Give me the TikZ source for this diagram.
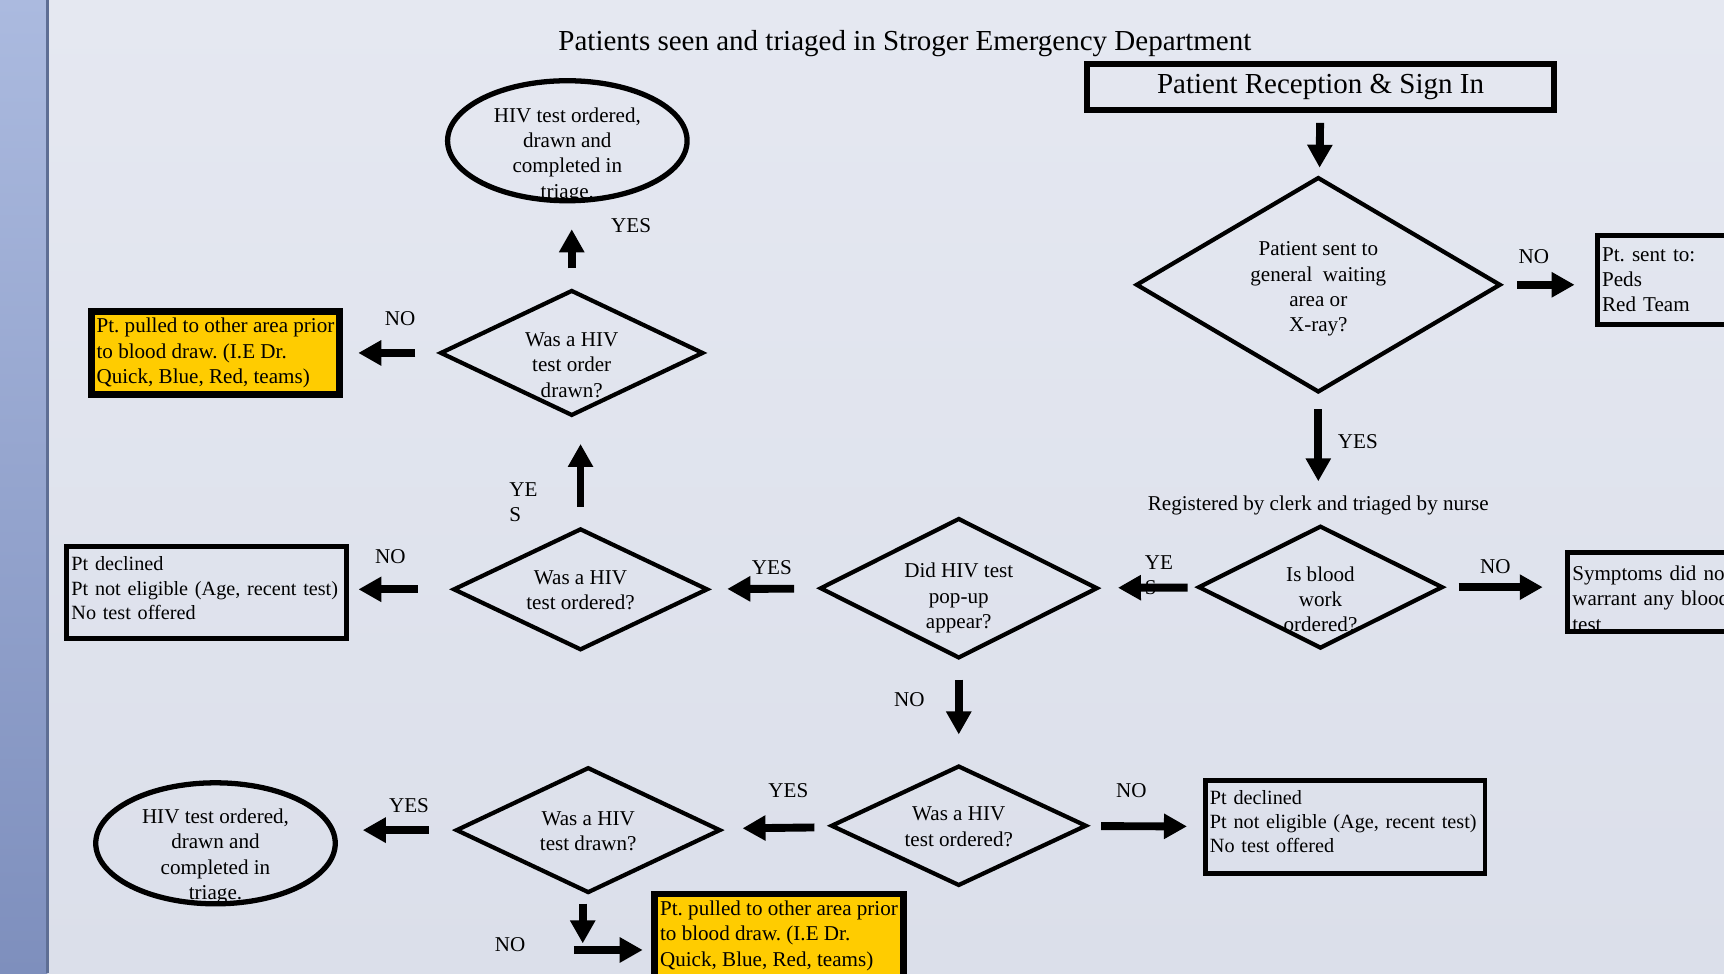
\documentclass[tikz,border=0pt]{standalone}
\usepackage{fontspec}
\setmainfont{Liberation Serif}
\usepackage{tikz}
\usetikzlibrary{positioning,arrows.meta,shapes.geometric,calc}
\definecolor{slidetop}{HTML}{E5E8F1}
\definecolor{slidebot}{HTML}{DBDFEA}
\definecolor{bartop}{HTML}{ABBADF}
\definecolor{barbot}{HTML}{7E8FBD}
\definecolor{baredge}{HTML}{5E6E94}
\definecolor{amber}{HTML}{FFCC00}
\frenchspacing

\begin{document}
\begin{tikzpicture}[x=0.02199cm,y=-0.02199cm,font=\fontsize{12}{14.4}\selectfont,
    decision/.style={diamond,draw,line width=2.4pt,inner sep=0pt,outer sep=0pt},
    finish/.style={ellipse,draw,line width=3pt,inner sep=0pt,outer sep=0pt,minimum width=4.79cm,minimum height=2.4cm},
    outbox/.style={rectangle,draw,line width=2.8pt,outer sep=0pt,inner ysep=0pt,inner xsep=0.09cm,align=left},
    pulled/.style={outbox,fill=amber,line width=3.8pt,inner xsep=0.03cm,minimum width=4.97cm,minimum height=1.67cm},
    declined/.style={outbox,font=\fontsize{11.5}{13.8}\selectfont,text width=5.41cm,minimum height=1.85cm},
    flow/.style={line width=4.5pt,-{Triangle[length=0.46cm,width=0.48cm]}},
    ans/.style={inner sep=0pt}]
  \useasboundingbox (0,0) rectangle (1568,885);
  \clip (0,0) rectangle (1568,885);
  % slide background
  \shade[top color=slidetop,bottom color=slidebot] (0,0) rectangle (1568,885);
  \shade[top color=bartop,bottom color=barbot] (0,0) rectangle (43,885);
  \fill[baredge] (42,0) rectangle (44.5,885);

  \node (title) at (823,40) {\fontsize{16.5}{19}\selectfont Patients seen and triaged in Stroger Emergency Department};
  \node[outbox,line width=3.4pt,minimum width=9.33cm,minimum height=0.92cm,align=center,font=\fontsize{16.5}{19}\selectfont] (reception) at (1201,79) {Patient Reception \& Sign In};

  % decisions
  \node[decision,minimum width=7.26cm,minimum height=4.27cm] (sent) at (1199,259) {};
  \node[align=center] (sentq) at (1199,263) {Patient sent to\\general~ waiting\\area or\\X-ray?};
  \node[decision,minimum width=4.86cm,minimum height=2.42cm] (blood) at (1201,534) {};
  \node[align=center] (bloodq) at (1201,545) {Is blood\\work\\ordered?};
  \node[decision,minimum width=5.52cm,minimum height=2.77cm] (popup) at (872,535) {};
  \node[align=center] (popupq) at (872,544) {Did HIV test\\pop-up\\appear?};
  \node[decision,minimum width=5.06cm,minimum height=2.40cm] (ordered) at (528,536) {};
  \node[align=center] (orderedq) at (528,537) {Was a HIV\\test ordered?};
  \node[decision,minimum width=5.23cm,minimum height=2.48cm] (orderdrawn) at (520,321) {};
  \node[align=center] (orderdrawnq) at (520,332) {Was a HIV\\test order\\drawn?};
  \node[decision,minimum width=5.08cm,minimum height=2.37cm] (ordered2) at (872,751) {};
  \node[align=center] (ordered2q) at (872,752) {Was a HIV\\test ordered?};
  \node[decision,minimum width=5.26cm,minimum height=2.48cm] (drawn2) at (535,755) {};
  \node[align=center] (drawn2q) at (535,756) {Was a HIV\\test drawn?};

  % outcomes
  \node[finish] (done1) at (516,128) {};
  \node[align=center] (done1t) at (516,141) {HIV test ordered,\\drawn and\\completed in\\triage.};
  \node[finish,minimum height=2.42cm] (done2) at (196,767) {};
  \node[align=center] (done2t) at (196,779) {HIV test ordered,\\drawn and\\completed in\\triage.};
  \node[outbox,text width=3.05cm,minimum height=1.78cm] (peds) at (1526.5,254.5) {Pt. sent to:\\Peds\\Red Team};
  \node[outbox,text width=3.87cm,minimum height=1.52cm] (symptoms) at (1518,538.5) {\rule{0pt}{0.55cm}Symptoms did not\\warrant any blood\\test};
  \node[declined] (declined1) at (188,539) {Pt declined\\Pt not eligible (Age, recent test)\\No test offered\rule[-0.18cm]{0pt}{0pt}};
  \node[declined] (declined2) at (1223.5,752) {Pt declined\\Pt not eligible (Age, recent test)\\No test offered\rule[-0.22cm]{0pt}{0pt}};
  \node[pulled] (pulled1) at (196,321) {Pt. pulled to other area prior\\to blood draw. (I.E Dr.\\Quick, Blue, Red, teams)};
  \node[pulled] (pulled2) at (708.5,851) {Pt. pulled to other area prior\\to blood draw. (I.E Dr.\\Quick, Blue, Red, teams)};
  \node[inner sep=0pt] (reg) at (1199,460) {Registered by clerk and triaged by nurse};

  % answers
  \node[ans] (noA) at (1395,233) {NO};
  \node[ans] (yesA) at (1235,402) {YES};
  \node[ans] (noB) at (1360,515) {NO};
  \node[ans,align=left,anchor=west] (yesB) at (1041,523) {YE\\S};
  \node[ans] (yesC) at (702,516) {YES};
  \node[ans] (noC) at (355,506) {NO};
  \node[ans,align=left,anchor=west] (yesD) at (463,457) {YE\\S};
  \node[ans] (noD) at (364,290) {NO};
  \node[ans] (yesE) at (574,205) {YES};
  \node[ans] (noE) at (827,636) {NO};
  \node[ans] (yesF) at (717,719) {YES};
  \node[ans] (noF) at (1029,719) {NO};
  \node[ans] (yesG) at (372,733) {YES};
  \node[ans] (noG) at (464,859) {NO};

  % arrows
  \draw[flow,shorten <=0.26cm,shorten >=0.22cm] (reception) -- (sent);
  \draw[flow,shorten <=0.35cm,shorten >=0.46cm] (sent.east) -- (sent.east -| peds.west);
  \draw[flow,shorten <=0.35cm,shorten >=0.29cm] (sent) -- (reg);
  \draw[flow,shorten <=0.24cm,shorten >=0.44cm] (blood) -- (popup);
  \draw[flow,shorten <=0.33cm,shorten >=0.5cm] (blood.east) -- (blood.east -| symptoms.west);
  \draw[flow,shorten <=0.55cm,shorten >=0.42cm] (popup) -- (ordered);
  \draw[flow,shorten <=0.73cm,shorten >=0.24cm] (ordered.west) -- (ordered.west -| declined1.east);
  \draw[flow,shorten <=0.45cm,shorten >=0.58cm] (ordered.north) -- (ordered.north |- orderdrawn.south);
  \draw[flow,shorten <=0.51cm,shorten >=0.37cm] (orderdrawn.west) -- (orderdrawn.west -| pulled1.east);
  \draw[flow,shorten <=0.45cm,shorten >=0.57cm] (orderdrawn.north) -- (orderdrawn.north |- done1.south);
  \draw[flow,shorten <=0.44cm,shorten >=0.64cm] (popup) -- (ordered2);
  \draw[flow,shorten <=0.32cm,shorten >=0.37cm] (ordered2) -- (declined2);
  \draw[flow,shorten <=0.41cm,shorten >=0.52cm] (ordered2) -- (drawn2);
  \draw[flow,shorten <=0.56cm,shorten >=0.55cm] (drawn2.west) -- (drawn2.west -| done2.east);
  \coordinate (nodrop) at (530,858);
  \coordinate (noturn) at (522,864);
  \draw[flow,shorten <=0.23cm] (drawn2.south -| nodrop) -- (nodrop);
  \draw[flow,shorten >=0.24cm] (noturn) -- (noturn -| pulled2.west);
\end{tikzpicture}
\end{document}
